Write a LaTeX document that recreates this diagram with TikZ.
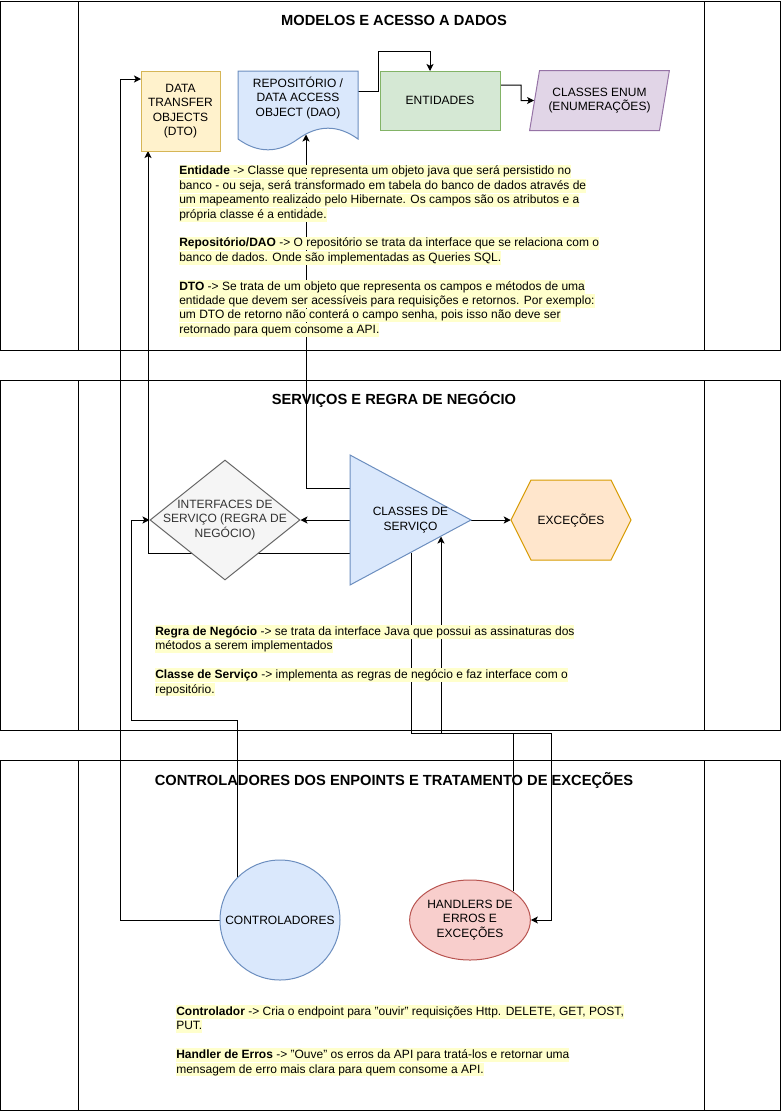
\documentclass[tikz,border=0pt]{standalone}
\usepackage{fontspec}
\setmainfont{Liberation Sans}
\usepackage{tikz}
\usetikzlibrary{shapes,arrows.meta,positioning}
\usepackage{xcolor}

\definecolor{dtoFill}{HTML}{FFF2CC}
\definecolor{dtoDraw}{HTML}{D6B656}
\definecolor{blueFill}{HTML}{DAE8FC}
\definecolor{blueDraw}{HTML}{6C8EBF}
\definecolor{greenFill}{HTML}{D5E8D4}
\definecolor{greenDraw}{HTML}{82B366}
\definecolor{purpleFill}{HTML}{E1D5E7}
\definecolor{purpleDraw}{HTML}{9673A6}
\definecolor{grayFill}{HTML}{F5F5F5}
\definecolor{grayDraw}{HTML}{666666}
\definecolor{grayText}{HTML}{333333}
\definecolor{orangeFill}{HTML}{FFE6CC}
\definecolor{orangeDraw}{HTML}{D79B00}
\definecolor{redFill}{HTML}{F8CECC}
\definecolor{redDraw}{HTML}{B85450}
\definecolor{noteYellow}{HTML}{FFFFCC}

\pgfdeclarelayer{background}
\pgfsetlayers{background,main}

\newcommand{\hlline}[1]{{\setlength{\fboxsep}{0pt}\colorbox{noteYellow}{\rule[-2.6pt]{0pt}{10.2pt}#1}}}

\begin{document}
\begin{tikzpicture}[x=0.75pt,y=0.75pt,yscale=-1,xscale=1,
  lanetitle/.style={inner sep=0pt,font=\bfseries\fontsize{11}{13.2}\selectfont},
  shapetext/.style={inner sep=0pt,align=center,font=\fontsize{9}{10.8}\selectfont},
  dtoshape/.style={shapetext,draw=dtoDraw,fill=dtoFill,line width=0.75pt},
  blueshape/.style={shapetext,draw=blueDraw,fill=blueFill,line width=0.75pt},
  greenshape/.style={shapetext,draw=greenDraw,fill=greenFill,line width=0.75pt},
  purpleshape/.style={shapetext,draw=purpleDraw,fill=purpleFill,line width=0.75pt},
  grayshape/.style={shapetext,draw=grayDraw,fill=grayFill,line width=0.75pt},
  orangeshape/.style={shapetext,draw=orangeDraw,fill=orangeFill,line width=0.75pt},
  redshape/.style={shapetext,draw=redDraw,fill=redFill,line width=0.75pt},
  connector/.style={line width=0.75pt,-{Stealth[length=5.25pt,width=5.25pt,inset=1.3pt]}},
  notetext/.style={anchor=north west,inner sep=0pt,align=left,font=\fontsize{9}{10.8}\selectfont}]
\useasboundingbox (0,0) rectangle (781,1111);

\begin{pgfonlayer}{background}
%Shape: Rectangle (lane 1)
\draw [line width=0.75pt] (0.5,1) rectangle (780,350) ;
\draw [line width=0.75pt] (78,1) -- (78,350) ;
\draw [line width=0.75pt] (704,1) -- (704,350) ;
%Shape: Rectangle (lane 2)
\draw [line width=0.75pt] (0.5,380) rectangle (780,730) ;
\draw [line width=0.75pt] (78,380) -- (78,730) ;
\draw [line width=0.75pt] (704,380) -- (704,730) ;
%Shape: Rectangle (lane 3)
\draw [line width=0.75pt] (0.5,760) rectangle (780,1110) ;
\draw [line width=0.75pt] (78,760) -- (78,1110) ;
\draw [line width=0.75pt] (704,760) -- (704,1110) ;
\end{pgfonlayer}

% Text Node
\node [lanetitle] (titleModels) at (394,20) {MODELOS E ACESSO A DADOS};
% Text Node
\node [lanetitle] (titleServices) at (394,400) {SERVIÇOS E REGRA DE NEGÓCIO};
% Text Node
\node [lanetitle] (titleControllers) at (394,780) {CONTROLADORES DOS ENPOINTS E TRATAMENTO DE EXCEÇÕES};

%Shape: Rectangle
\node [dtoshape, minimum width=59.25pt, minimum height=60pt] (dto) at (180.5,111) {DATA\\TRANSFER\\OBJECTS\\(DTO)};
%Shape: Document
\draw [blueshape] (238,71) -- (358,71) -- (358,139) .. controls (338,124.6) and (318,124.6) .. (298,139) .. controls (278,153.4) and (258,153.4) .. (238,139) -- cycle ;
\node [shapetext] (repo) at (298,98) {REPOSITÓRIO /\\DATA ACCESS\\OBJECT (DAO)};
%Shape: Rectangle
\node [greenshape, minimum width=90pt, minimum height=44.25pt] (ent) at (440,100.5) {ENTIDADES};
%Shape: Parallelogram
\node [purpleshape, trapezium, trapezium left angle=71.6, trapezium right angle=108.4, trapezium stretches=true, minimum width=105pt, minimum height=45pt] (enum) at (599.5,100.5) {CLASSES ENUM\\(ENUMERAÇÕES)};

%Shape: Diamond
\node [grayshape, diamond, minimum width=112.5pt, minimum height=90pt] (iface) at (225,520) {};
\node [shapetext, text=grayText] (ifaceText) at (iface) {INTERFACES DE\\SERVIÇO (REGRA DE\\NEGÓCIO)};
%Shape: Triangle
\draw [blueshape] (350,455) -- (471,520) -- (350,585) -- cycle ;
\node [shapetext, minimum width=90.75pt, minimum height=97.5pt] (svc) at (410.5,520) {CLASSES DE\\SERVIÇO};
%Shape: Hexagon
\draw [orangeshape] (511,520) -- (531,480) -- (611,480) -- (631,520) -- (611,560) -- (531,560) -- cycle ;
\node [shapetext, minimum width=90pt, minimum height=60pt] (exc) at (571,520) {EXCEÇÕES};

%Shape: Circle
\node [blueshape, circle, minimum size=90pt] (ctrl) at (280,920) {CONTROLADORES};
%Shape: Ellipse
\node [redshape, ellipse, minimum width=90pt, minimum height=60pt] (hnd) at (470,920) {HANDLERS DE\\ERROS E\\EXCEÇÕES};

% points where the connectors touch the shapes
\coordinate (repoOut) at (358,91);
\coordinate (repoBend) at (378,51);
\coordinate (entIn) at (430,71);
\coordinate (entOut) at (500,85);
\coordinate (enumBend) at (521,100.5);
\coordinate (repoIn) at (306,134.5);
\coordinate (dtoLeftIn) at (141,79);
\coordinate (dtoLeftBend) at (120,79);
\coordinate (dtoBotIn) at (148,151);
\coordinate (svcToRepo) at (350,488);
\coordinate (svcToDto) at (350,553);
\coordinate (svcIn) at (441,536.5);
\coordinate (svcOut) at (411,552.5);
\coordinate (ifaceBend) at (131,720);
\coordinate (busA) at (441,733);
\coordinate (busB) at (551,733);

\begin{pgfonlayer}{background}
%Straight Lines
\draw [connector] (repoOut) -| (repoBend) -| (entIn) ;
%Straight Lines
\draw [connector] (entOut) -| (enumBend) -- (enum.west) ;
%Straight Lines
\draw [connector] (svcToRepo) -| (repoIn) ;
%Straight Lines
\draw [connector] (svcToDto) -| (dtoBotIn) ;
%Straight Lines
\draw [connector] (svc.west) -- (iface.east) ;
%Straight Lines
\draw [connector] (svc.east) -- (exc.west) ;
%Straight Lines
\draw [connector] (ctrl.west) -| (dtoLeftBend) -- (dtoLeftIn) ;
%Straight Lines
\draw [connector] (ctrl.north west) |- (ifaceBend) |- (iface.west) ;
%Straight Lines
\draw [connector] (hnd.north east) |- (busA) -- (svcIn) ;
%Straight Lines
\draw [connector] (svcOut) |- (busB) |- (hnd.east) ;
\end{pgfonlayer}

% Text Node
\node [notetext] (noteModels) at (179,164.5) {%
\hlline{\textbf{Entidade} -> Classe que representa um objeto java que será persistido no}\\
\hlline{banco - ou seja, será transformado em tabela do banco de dados através de}\\
\hlline{um mapeamento realizado pelo Hibernate. Os campos são os atributos e a}\\
\hlline{própria classe é a entidade.}\\[10.8pt]
\hlline{\textbf{Repositório/DAO} -> O repositório se trata da interface que se relaciona com o}\\
\hlline{banco de dados. Onde são implementadas as Queries SQL.}\\[10.8pt]
\hlline{\textbf{DTO} -> Se trata de um objeto que representa os campos e métodos de uma}\\
\hlline{entidade que devem ser acessíveis para requisições e retornos. Por exemplo:}\\
\hlline{um DTO de retorno não conterá o campo senha, pois isso não deve ser}\\
\hlline{retornado para quem consome a API.}};
% Text Node
\node [notetext] (noteServices) at (155,625) {%
\hlline{\textbf{Regra de Negócio} -> se trata da interface Java que possui as assinaturas dos}\\
\hlline{métodos a serem implementados}\\[10.8pt]
\hlline{\textbf{Classe de Serviço} -> implementa as regras de negócio e faz interface com o}\\
\hlline{repositório.}};
% Text Node
\node [notetext] (noteControllers) at (176,1005) {%
\hlline{\textbf{Controlador} -> Cria o endpoint para "ouvir" requisições Http. DELETE, GET, POST,}\\
\hlline{PUT.}\\[10.8pt]
\hlline{\textbf{Handler de Erros} -> "Ouve" os erros da API para tratá-los e retornar uma}\\
\hlline{mensagem de erro mais clara para quem consome a API.}};

\end{tikzpicture}
\end{document}
